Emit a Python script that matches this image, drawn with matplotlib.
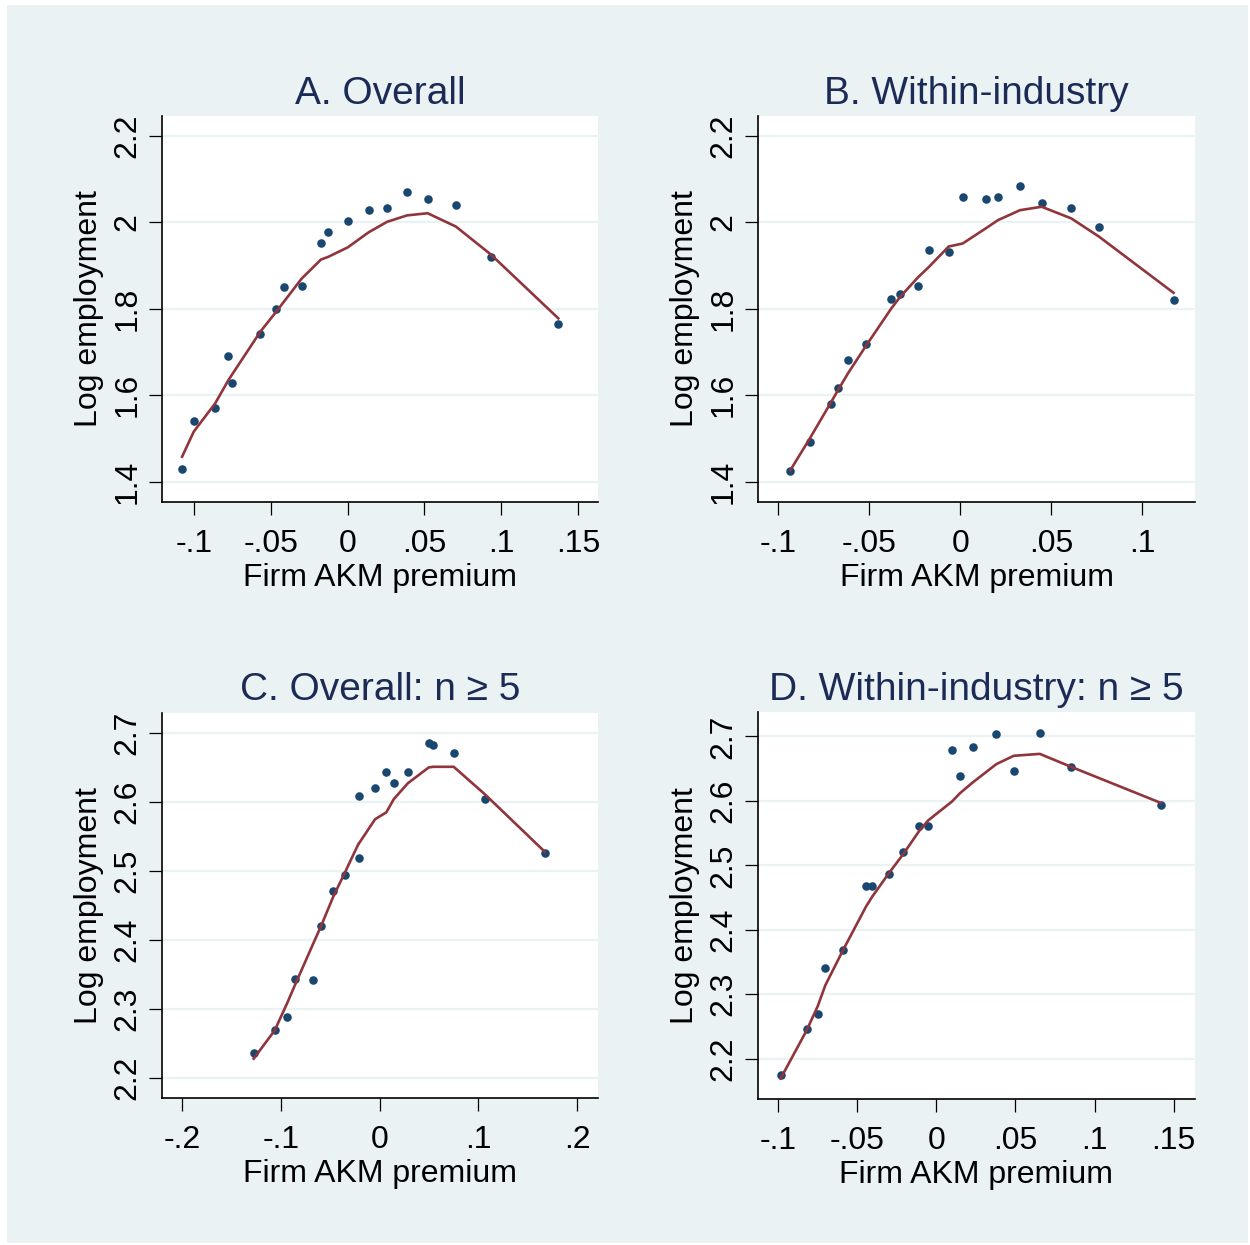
import numpy as np
import matplotlib
matplotlib.use('Agg')
from matplotlib import pyplot as plt
from matplotlib.patches import Rectangle

# binned scatter of log employment vs firm AKM premium + lowess fit

# A. Overall
overall_x = [-0.108, -0.1004, -0.0865, -0.0778, -0.0756, -0.057, -0.0467, -0.0417, -0.030, -0.0174,
             -0.0128, 0.0, 0.0137, 0.0256, 0.0387, 0.0521, 0.0706, 0.0932, 0.1373]
overall_y = [1.430, 1.541, 1.571, 1.691, 1.628, 1.742, 1.800, 1.850, 1.853, 1.951,
             1.978, 2.004, 2.029, 2.034, 2.069, 2.055, 2.041, 1.920, 1.765]
overall_fit = [1.458, 1.516, 1.581, 1.635, 1.647, 1.747, 1.793, 1.816, 1.870, 1.914,
               1.920, 1.942, 1.977, 2.001, 2.016, 2.021, 1.990, 1.926, 1.778]

# B. Within-industry
within_x = [-0.0934, -0.0826, -0.0712, -0.0672, -0.0617, -0.0516, -0.0379, -0.033, -0.0232, -0.0172,
            -0.0064, 0.0013, 0.0140, 0.0207, 0.0328, 0.0447, 0.061, 0.0762, 0.1172]
within_y = [1.424, 1.493, 1.581, 1.618, 1.682, 1.718, 1.823, 1.834, 1.852, 1.935,
            1.932, 2.058, 2.054, 2.059, 2.083, 2.044, 2.034, 1.989, 1.820]
within_fit = [1.427, 1.501, 1.583, 1.612, 1.651, 1.716, 1.801, 1.828, 1.873, 1.897,
              1.944, 1.951, 1.986, 2.005, 2.028, 2.036, 2.009, 1.967, 1.837]

# C. Overall: n >= 5
overall5_x = [-0.1277, -0.1064, -0.0936, -0.0855, -0.0676, -0.0592, -0.047, -0.0355, -0.0213, -0.021,
              -0.0047, 0.0067, 0.0142, 0.0284, 0.0496, 0.054, 0.075, 0.1067, 0.1672]
overall5_y = [2.236, 2.269, 2.289, 2.343, 2.342, 2.421, 2.471, 2.494, 2.609, 2.519,
              2.621, 2.644, 2.627, 2.644, 2.685, 2.683, 2.671, 2.605, 2.526]
overall5_fit = [2.228, 2.269, 2.309, 2.336, 2.394, 2.421, 2.463, 2.497, 2.540, 2.540,
                2.575, 2.585, 2.604, 2.627, 2.650, 2.651, 2.651, 2.611, 2.528]

# D. Within-industry: n >= 5
within5_x = [-0.0984, -0.0819, -0.075, -0.0701, -0.0588, -0.0444, -0.0406, -0.0299, -0.021, -0.0109,
             -0.005, 0.0099, 0.015, 0.0232, 0.0379, 0.0489, 0.0654, 0.0851, 0.1418]
within5_y = [2.175, 2.246, 2.270, 2.341, 2.368, 2.4675, 2.4675, 2.487, 2.521, 2.561,
             2.561, 2.679, 2.639, 2.684, 2.704, 2.646, 2.706, 2.652, 2.594]
within5_fit = [2.169, 2.244, 2.281, 2.314, 2.369, 2.436, 2.451, 2.488, 2.517, 2.553,
               2.570, 2.599, 2.612, 2.629, 2.657, 2.670, 2.673, 2.653, 2.597]

titles = ['A. Overall', 'B. Within-industry', 'C. Overall: n ≥ 5', 'D. Within-industry: n ≥ 5']

xticks_a = [-0.1, -0.05, 0, 0.05, 0.1, 0.15]
xticks_b = [-0.1, -0.05, 0, 0.05, 0.1]
xticks_c = [-0.2, -0.1, 0, 0.1, 0.2]
xticks_d = [-0.1, -0.05, 0, 0.05, 0.1, 0.15]
yticks_top = [1.4, 1.6, 1.8, 2.0, 2.2]
yticks_bot = [2.2, 2.3, 2.4, 2.5, 2.6, 2.7]

BG = '#eaf2f3'
NAVY = '#1a476f'
MAROON = '#90353b'
TITLE_COL = '#1c2b55'

W, H = 1250, 1245
plt.rcParams['font.family'] = ['Liberation Sans', 'DejaVu Sans']


def stata_fmt(v):
    # stata style: -.05, 0, .1, 2
    s = ('%.2f' % v).rstrip('0').rstrip('.')
    if s in ('-0', ''):
        s = '0'
    s = s.replace('0.', '.') if s.startswith('0.') or s.startswith('-0.') else s
    return s


def px_axes(fig, left, top, right, bottom):
    return fig.add_axes([left / W, 1 - bottom / H, (right - left) / W, (bottom - top) / H])


def panel(ax, x, y, fit, title, xticks, yticks, xlim, ylim):
    ax.set_facecolor('white')
    ax.scatter(x, y, s=38, color=NAVY, linewidths=0, zorder=3)
    order = np.argsort(x, kind='stable')
    ax.plot(np.array(x)[order], np.array(fit)[order], color=MAROON, lw=1.9, zorder=4)
    ax.set_xlim(*xlim)
    ax.set_ylim(*ylim)
    ax.set_xticks(xticks)
    ax.set_xticklabels([stata_fmt(t) for t in xticks])
    ax.set_yticks(yticks)
    ax.set_yticklabels([stata_fmt(t) for t in yticks], rotation=90, va='center')
    ax.grid(axis='y', color=BG, lw=1.6, zorder=0)
    ax.set_axisbelow(True)
    for s in ['top', 'right']:
        ax.spines[s].set_visible(False)
    for s in ['left', 'bottom']:
        ax.spines[s].set_linewidth(1.2)
        ax.spines[s].set_color('black')
    ax.tick_params(axis='x', length=9, width=0.9, pad=10.5, labelsize=23)
    ax.tick_params(axis='y', length=9.5, width=0.9, pad=4.5, labelsize=23)
    ax.set_xlabel('Firm AKM premium', fontsize=23, labelpad=3)
    ax.set_ylabel('Log employment', fontsize=23, labelpad=6)
    ax.set_title(title, fontsize=28, color=TITLE_COL, pad=9)


fig = plt.figure(figsize=(W / 100, H / 100), dpi=100)
fig.patch.set_facecolor('white')
bg = Rectangle((7 / W, 1 - 1243 / H), (1248 - 7) / W, (1243 - 5) / H,
               transform=fig.transFigure, facecolor=BG, edgecolor='none', zorder=-10)
fig.add_artist(bg)

ax_a = px_axes(fig, 162, 116, 598, 502)
ax_b = px_axes(fig, 758, 116, 1195, 502)
ax_c = px_axes(fig, 162, 712.5, 598, 1098)
ax_d = px_axes(fig, 757.5, 712, 1194.5, 1099)

panel(ax_a, overall_x, overall_y, overall_fit, titles[0], xticks_a, yticks_top,
      (-0.1211, 0.1632), (1.3533, 2.2458))
panel(ax_b, within_x, within_y, within_fit, titles[1], xticks_b, yticks_top,
      (-0.1112, 0.129), (1.3533, 2.2458))
panel(ax_c, overall5_x, overall5_y, overall5_fit, titles[2], xticks_c, yticks_bot,
      (-0.2206, 0.2212), (2.171, 2.7297))
panel(ax_d, within5_x, within5_y, within5_fit, titles[3], xticks_d, yticks_bot,
      (-0.113, 0.1632), (2.1373, 2.738))

fig.savefig('out.png', dpi=100, facecolor=fig.get_facecolor())
